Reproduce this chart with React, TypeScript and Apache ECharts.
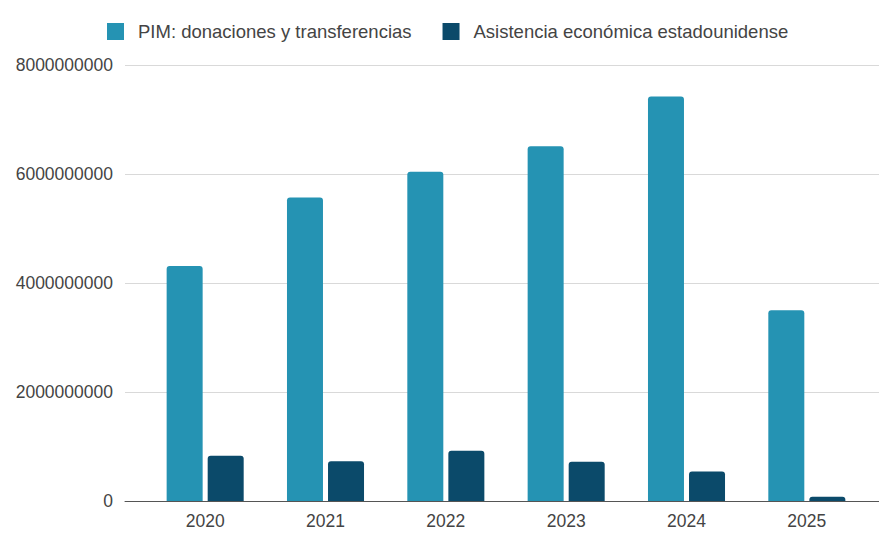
import React, { useEffect, useRef } from "react";
import * as echarts from "echarts";

const categories = ["2020", "2021", "2022", "2023", "2024", "2025"];
const pimValues = [4.31e9, 5.57e9, 6.04e9, 6.51e9, 7.42e9, 3.5e9];
const asistenciaValues = [0.83e9, 0.73e9, 0.92e9, 0.72e9, 0.54e9, 0.08e9];
const seriesNames = ["PIM: donaciones y transferencias", "Asistencia económica estadounidense"];
const yMax = 8000000000;
const yInterval = 2000000000;

const FONT = "'Liberation Sans', Arial, sans-serif";

export default function App() {
  const ref = useRef<HTMLDivElement>(null);
  useEffect(() => {
    document.body.style.margin = "0";
    if (!ref.current) return;
    const chart = echarts.init(ref.current, undefined, { renderer: "svg" });
    chart.setOption({
      animation: false,
      backgroundColor: "#ffffff",
      textStyle: { fontFamily: FONT },
      legend: {
        top: 17,
        left: 102,
        itemWidth: 17,
        itemHeight: 17,
        itemGap: 31,
        icon: "rect",
        textStyle: { fontSize: 18.5, color: "#444", fontFamily: FONT, padding: [0, 0, 0, 9] },
        data: seriesNames,
      },
      grid: [
        { left: 125, right: 0, top: 65, bottom: 32 },
        { left: 145, right: 12, top: 65, bottom: 32 },
      ],
      xAxis: [
        {
          gridIndex: 0,
          type: "value",
          min: 0,
          max: 1,
          axisLine: { show: true, onZero: false, lineStyle: { color: "#555", width: 1 } },
          axisTick: { show: false },
          axisLabel: { show: false },
          splitLine: { show: false },
        },
        {
          gridIndex: 1,
          type: "category",
          data: categories,
          axisLine: { show: false },
          axisTick: { show: false },
          axisLabel: { fontSize: 17.5, color: "#444", margin: 11, fontFamily: FONT },
        },
      ],
      yAxis: [
        {
          gridIndex: 0,
          type: "value",
          min: 0,
          max: yMax,
          interval: yInterval,
          axisLine: { show: false },
          axisTick: { show: false },
          axisLabel: {
            fontSize: 17.5,
            color: "#444",
            margin: 12,
            fontFamily: FONT,
            formatter: (v: number) => String(v),
          },
          splitLine: { lineStyle: { color: "#d9d9d9", width: 1 } },
        },
        {
          gridIndex: 1,
          type: "value",
          min: 0,
          max: yMax,
          interval: yInterval,
          show: false,
          splitLine: { show: false },
        },
      ],
      series: [
        {
          name: seriesNames[0],
          type: "bar",
          xAxisIndex: 1,
          yAxisIndex: 1,
          data: pimValues,
          barWidth: 36,
          barGap: "14%",
          itemStyle: { color: "#2593B3", borderRadius: [3, 3, 0, 0] },
        },
        {
          name: seriesNames[1],
          type: "bar",
          xAxisIndex: 1,
          yAxisIndex: 1,
          data: asistenciaValues,
          barWidth: 36,
          barGap: "14%",
          itemStyle: { color: "#0B4A6A", borderRadius: [3, 3, 0, 0] },
        },
      ],
    });
    return () => chart.dispose();
  }, []);
  return <div ref={ref} style={{ width: 879, height: 533 }} />;
}
